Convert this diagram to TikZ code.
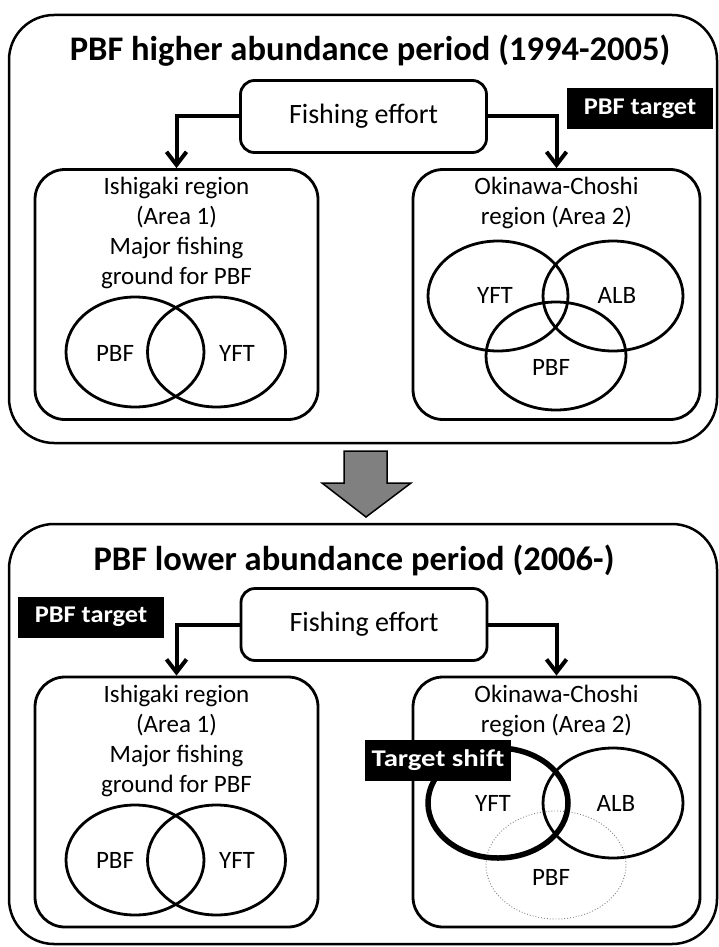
\documentclass[tikz,border=0pt]{standalone}
\usepackage{fontspec}
\usepackage{graphicx}
\setmainfont{Carlito}
\usetikzlibrary{arrows.meta}
\begin{document}
\begin{tikzpicture}[x=1pt,y=-1pt,
  bigbox/.style={draw, line width=2.5pt, rounded corners=45pt, minimum width=708pt, inner sep=0pt},
  regbox/.style={draw, line width=2.8pt, rounded corners=30pt, minimum height=250pt, inner sep=0pt},
  effbox/.style={draw, line width=2.8pt, rounded corners=14pt, minimum width=246pt, minimum height=72pt, inner sep=0pt, font=\fontsize{28}{34}\selectfont},
  titletext/.style={font=\bfseries\fontsize{34.5}{41}\selectfont, anchor=base, inner sep=0pt},
  regtext/.style={font=\fontsize{25}{30}\selectfont, align=center, anchor=north, inner sep=0pt},
  lbl/.style={font=\fontsize{25}{30}\selectfont, inner sep=0pt},
  tag/.style={fill=black, text=white, font=\bfseries\fontsize{24}{28}\selectfont, minimum width=146pt, minimum height=41pt, inner sep=0pt},
  flow/.style={line width=4pt, -{Straight Barb[length=13pt,width=20pt]}},
  venn/.style={line width=2.8pt},
  shifted/.style={line width=5.5pt},
  faded/.style={line width=0.9pt, gray, dotted},
]
\useasboundingbox (0,0) rectangle (719,947);

% ---------- upper panel ----------
\node[bigbox, minimum height=428pt] (big1) at (363,229) {};
\node[titletext] (title1) at (370,61) {PBF higher abundance period (1994-2005)};
\node[effbox] (eff1) at (363.5,116.5) {Fishing effort};
\node[tag] (tag1) at (640,108.5) {\scalebox{1.1}[1]{PBF target}};
\node[regbox, minimum width=283pt] (ish1) at (176.5,294.5) {};
\node[regbox, minimum width=287pt] (oki1) at (556.5,294.5) {};
\draw[flow] (eff1.west) -| (ish1.north);
\draw[flow] (eff1.east) -| (oki1.north);
\node[regtext] (ish1t) at (176.5,177) {Ishigaki region\\(Area 1)\\Major fishing\\ground for PBF};
\node[regtext] (oki1t) at (556.5,177) {Okinawa-Choshi\\region (Area 2)};
\draw[venn] (135,352) ellipse [x radius=69pt, y radius=55pt];
\draw[venn] (216.5,352) ellipse [x radius=69pt, y radius=55pt];
\node[lbl] (ish1a) at (115,353) {PBF};
\node[lbl] (ish1b) at (237,353) {YFT};
\draw[venn] (498,296) ellipse [x radius=70pt, y radius=55pt];
\draw[venn] (613,296) ellipse [x radius=70pt, y radius=55pt];
\draw[venn] (556,356) ellipse [x radius=70pt, y radius=54pt];
\node[lbl] (oki1a) at (495,295) {YFT};
\node[lbl] (oki1b) at (617,295) {ALB};
\node[lbl] (oki1c) at (551,367) {PBF};

% ---------- transition arrow ----------
\draw[line width=1.5pt, fill=gray] (344,451) -- (387,451) -- (387,483) -- (411,483) -- (366,517) -- (322,483) -- (344,483) -- cycle;

% ---------- lower panel ----------
\node[bigbox, minimum height=420pt] (big2) at (363,734) {};
\node[titletext] (title2) at (354,570) {PBF lower abundance period (2006-)};
\node[effbox] (eff2) at (364,624.5) {Fishing effort};
\node[tag] (tag2) at (91,617) {\scalebox{1.1}[1]{PBF target}};
\node[regbox, minimum width=283pt] (ish2) at (176.5,802) {};
\node[regbox, minimum width=287pt] (oki2) at (556.5,802) {};
\draw[flow] (eff2.west) -| (ish2.north);
\draw[flow] (eff2.east) -| (oki2.north);
\node[regtext] (ish2t) at (176.5,685) {Ishigaki region\\(Area 1)\\Major fishing\\ground for PBF};
\node[regtext] (oki2t) at (556.5,685) {Okinawa-Choshi\\region (Area 2)};
\draw[venn] (135,860) ellipse [x radius=69pt, y radius=55pt];
\draw[venn] (216.5,860) ellipse [x radius=69pt, y radius=55pt];
\node[lbl] (ish2a) at (115,860) {PBF};
\node[lbl] (ish2b) at (237,860) {YFT};
\draw[faded] (556,865) ellipse [x radius=70pt, y radius=54pt];
\draw[shifted] (498,803) ellipse [x radius=70pt, y radius=55pt];
\draw[venn] (613,803) ellipse [x radius=70pt, y radius=55pt];
\node[lbl] (oki2a) at (493,803) {YFT};
\node[lbl] (oki2b) at (616,803) {ALB};
\node[lbl] (oki2c) at (551,877) {PBF};
\node[tag] (tag3) at (438,760.5) {\scalebox{1.2}[1]{Target shift}};
\end{tikzpicture}
\end{document}
